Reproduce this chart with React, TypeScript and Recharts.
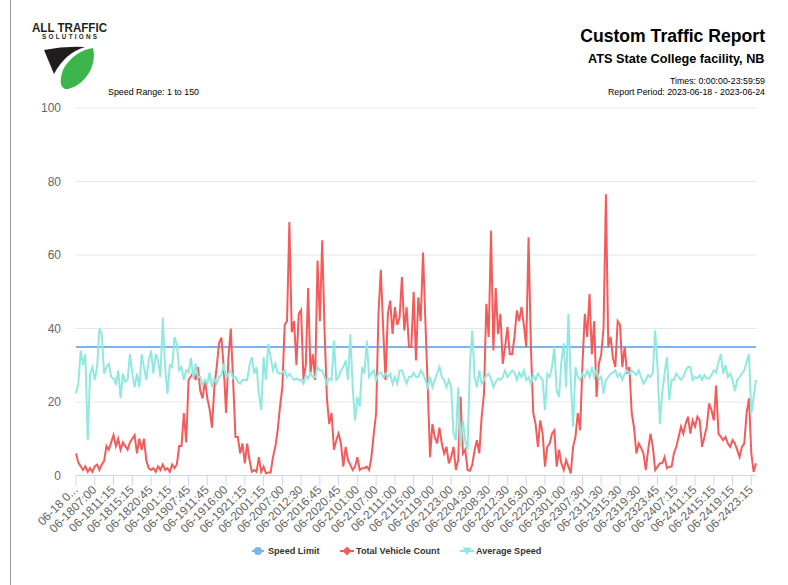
import React from 'react';
import { LineChart, Line, XAxis, YAxis, CartesianGrid } from 'recharts';

const tickLabels = [
  '06-18 0...', '06-1807:00', '06-1811:15', '06-1815:15', '06-1820:45', '06-1901:15',
  '06-1907:45', '06-1911:45', '06-1916:00', '06-1921:15', '06-2001:15', '06-2007:00',
  '06-2012:30', '06-2016:45', '06-2020:45', '06-2101:00', '06-2107:00', '06-2111:00',
  '06-2115:00', '06-2119:00', '06-2123:00', '06-2204:30', '06-2208:30', '06-2212:30',
  '06-2216:30', '06-2220:30', '06-2301:00', '06-2307:30', '06-2311:30', '06-2315:30',
  '06-2319:30', '06-2323:45', '06-2407:15', '06-2411:15', '06-2415:15', '06-2419:15',
  '06-2423:15',
];

const vehicleCount = [
  6, 3.5, 2.5, 1.5, 2.5, 1, 2, 1, 2.5, 3, 1.5, 3, 4, 8, 7, 9, 11, 8, 10, 7,
  9, 8, 7, 9, 10, 11, 6, 10, 7, 10, 4, 2, 1.5, 2, 1, 2.5, 1.5, 3, 1.5, 2,
  1, 3, 2, 3, 8, 8, 17, 9, 26, 27, 28, 26, 29.5, 23, 21, 26, 21, 18, 13, 24,
  29.5, 36, 37.5, 29.5, 17, 32, 40, 26, 10.5, 10.5, 6, 8.7, 3.3, 8.7, 4.2, 1, 1.5, 1, 5, 1,
  2.4, 0.6, 0.8, 0.8, 5, 7.8, 12.3, 18.7, 24, 41, 42, 69, 39, 42, 30, 44, 45, 26, 30, 51,
  28, 33, 26, 58.5, 42, 64, 39.5, 21, 14, 17, 7, 9.6, 11.4, 8.7, 2.4, 7.8, 4.2, 2.9, 1.5, 2.4,
  5, 1.5, 2, 2, 2.4, 1.5, 5, 11.4, 17, 44, 56, 40, 26, 44, 47.6, 38.5, 45.8, 41, 43, 54,
  39.5, 45.8, 35, 35, 50, 31.3, 48.5, 42, 60.7, 42, 24, 5, 14, 10.5, 8.7, 13, 8.7, 6, 7.8, 3.3,
  5, 7.8, 1.5, 4.2, 21.4, 6, 7, 1.5, 1.3, 2.9, 7, 9.6, 6, 16, 22.3, 46.7, 37.7, 66.6, 34, 51,
  38.5, 44, 30.4, 35, 40.4, 33, 33, 37.7, 44.9, 42, 45.8, 41, 35, 64.8, 35, 17, 14, 7.8, 15, 11.4,
  2.4, 7.8, 8.7, 11.4, 12.3, 2.4, 7, 3.3, 1.5, 4.2, 2.4, 0.6, 7.8, 10.5, 17, 12.3, 30.4, 44, 37.7, 49.4,
  33, 42, 21.4, 30.4, 33, 40.4, 76.5, 35, 37.7, 32, 29.5, 42, 41, 29.5, 35, 27.7, 29.5, 17, 13, 6,
  8.7, 7.5, 6, 1.5, 7, 11.4, 7.8, 1.5, 2.4, 3.3, 3.3, 5, 2, 2.4, 2.4, 6, 7.8, 10.5, 13.3, 11.4,
  14.1, 16, 11.4, 15, 13.3, 16, 15, 7.8, 10.5, 13.3, 19.6, 17.8, 15, 24.5, 11.4, 10.5, 9.6, 10.5, 8.7, 7.8,
  9.6, 8.7, 6.9, 5, 7.8, 8.7, 17, 21, 6, 1, 3.3,
];

const averageSpeed = [
  22.3, 25, 34, 30, 33, 9.6, 27.7, 29.5, 26, 29.5, 40, 38.5, 27.7, 29.5, 30.4, 26.8, 26.4, 25, 28.6, 21,
  27.7, 25.5, 26, 33, 27.7, 24, 27.7, 24, 33, 29.5, 26, 31.3, 34, 27.7, 33, 31.3, 26.8, 43, 29.5, 22.3,
  30, 29.5, 37.7, 35.8, 28.6, 29.5, 26, 28.6, 28, 32, 26.4, 30.4, 26.8, 26.8, 24.5, 26, 25, 28, 24, 26.4,
  25, 26.8, 27.3, 30.4, 26.4, 27.7, 28.6, 26.4, 26.8, 25.5, 25, 26, 26, 26, 30, 32.2, 27.7, 29.5, 22.3, 17.8,
  32.2, 26, 35.8, 32.2, 28.6, 30.4, 28, 27.7, 28, 28.6, 26.8, 27.7, 26.8, 26, 26.4, 26, 26, 25, 27.3, 26.4,
  27.7, 26.8, 26.8, 29.5, 28.6, 28.6, 26.8, 25, 26.4, 26, 36.7, 26, 26.8, 28.6, 29.5, 31.3, 26, 38.5, 24, 15,
  21.4, 18.7, 29.5, 27.7, 36.7, 26.8, 27.7, 28.6, 26, 27.7, 28, 26.8, 27.7, 26.8, 27.7, 25, 26.8, 25, 28.6, 28.6,
  26.8, 25, 26.8, 26.8, 28, 26.8, 26.8, 28.6, 27.7, 26, 24, 26.8, 24, 26, 27.7, 29.5, 26.8, 26, 24, 26,
  24, 11.4, 9.6, 24, 7.8, 15, 9.6, 6.9, 30.4, 39.5, 26.8, 24, 28.6, 25, 26, 27.3, 27.7, 26.4, 24, 25.5,
  26.4, 26, 26.8, 28.6, 26.8, 27.7, 28.6, 28, 26, 28, 26.8, 28.6, 26, 26.8, 25, 27.3, 26, 27.7, 26.8, 26,
  17.8, 27.7, 26.8, 29.5, 35, 23, 21.4, 31, 36, 24, 44, 26, 13.3, 29.5, 26.8, 26, 27.7, 26.8, 28.6, 26.8,
  29.5, 26.8, 28.6, 26, 26.8, 22.3, 26, 26.8, 27.7, 28, 28.6, 26.8, 27.7, 26, 27.7, 28.6, 27.7, 28.6, 28, 27.3,
  28.6, 26.8, 25, 26, 27.3, 26.8, 28, 39.5, 29.5, 14, 22.3, 27.7, 32.2, 20.5, 26, 26, 27.7, 26.8, 26, 26.8,
  28.6, 29.5, 29.5, 26, 26.8, 26.4, 27.3, 26, 27.3, 26.4, 26.4, 27.3, 28.6, 28, 30.9, 33, 27.7, 30, 26.8, 27.7,
  26, 23, 26, 26.8, 27.7, 28.6, 30.9, 33, 16.9, 21.4, 26,
];

const SPEED_LIMIT = 35;
const yTicks = [0, 20, 40, 60, 80, 100];

const seriesNames = ['Speed Limit', 'Total Vehicle Count', 'Average Speed'];
const seriesColors = ['#7cb5ec', '#f45b5b', '#91e8e1'];

const data = vehicleCount.map((v, i) => ({
  idx: i,
  speedLimit: SPEED_LIMIT,
  vehicleCount: v,
  averageSpeed: averageSpeed[i],
}));

const FONT = '"Liberation Sans", Arial, Helvetica, sans-serif';

function XTick(props: any) {
  const { x, y, payload } = props;
  const label = tickLabels[Math.round(payload.value / 8)] ?? '';
  return (
    <g transform={`translate(${x + 2.5},${y})`}>
      <text
        x={0}
        y={0}
        textAnchor="end"
        transform="rotate(-45)"
        fill="#666666"
        fontSize={12}
        fontFamily={FONT}
      >
        {label}
      </text>
    </g>
  );
}

function Header() {
  return (
    <svg
      width={788}
      height={110}
      style={{ position: 'absolute', left: 0, top: 0 }}
    >
      <text x={32} y={31.7} fontFamily={FONT} fontWeight={900} fontSize={12.6} fill="#231f20" textLength={75} lengthAdjust="spacingAndGlyphs">
        ALL TRAFFIC
      </text>
      <text x={42} y={39.3} fontFamily={FONT} fontWeight={700} fontSize={6.3} fill="#231f20" textLength={55} lengthAdjust="spacing">
        SOLUTIONS
      </text>
      <path d="M44,50 Q64,46 85,47 Q65,53 54,74 Q49,62 44,50 Z" fill="#1f1d1e" />
      <path d="M93,48 C97,62 88,84 68,89 C58,90 60,76 64,68 C70,58 80,50 93,48 Z" fill="#3cb54a" />
      <text x={108} y={95} fontFamily={FONT} fontSize={8.85} fill="#000">
        Speed Range: 1 to 150
      </text>
      <text x={765} y={41.7} textAnchor="end" fontFamily={FONT} fontWeight={700} fontSize={17.6} fill="#000">
        Custom Traffic Report
      </text>
      <text x={764.5} y={63} textAnchor="end" fontFamily={FONT} fontWeight={700} fontSize={12.7} fill="#000">
        ATS State College facility, NB
      </text>
      <text x={765} y={84.3} textAnchor="end" fontFamily={FONT} fontSize={8.8} fill="#000">
        Times: 0:00:00-23:59:59
      </text>
      <text x={765} y={95.3} textAnchor="end" fontFamily={FONT} fontSize={8.8} fill="#000">
        Report Period: 2023-06-18 - 2023-06-24
      </text>
    </svg>
  );
}

function LegendBox() {
  const cy = 11;
  return (
    <svg width={788} height={22} style={{ position: 'absolute', left: 0, top: 540 }}>
      <line x1={252} x2={264} y1={cy} y2={cy} stroke={seriesColors[0]} strokeWidth={2} />
      <circle cx={258} cy={cy} r={4} fill={seriesColors[0]} />
      <text x={268} y={cy + 3.3} fontFamily={FONT} fontWeight={700} fontSize={9.1} fill="#333333">
        {seriesNames[0]}
      </text>
      <line x1={340} x2={354} y1={cy} y2={cy} stroke={seriesColors[1]} strokeWidth={2} />
      <path d={`M347,${cy - 4.5} L351.5,${cy} L347,${cy + 4.5} L342.5,${cy} Z`} fill={seriesColors[1]} />
      <text x={356} y={cy + 3.3} fontFamily={FONT} fontWeight={700} fontSize={9.1} fill="#333333">
        {seriesNames[1]}
      </text>
      <line x1={460} x2={474} y1={cy} y2={cy} stroke={seriesColors[2]} strokeWidth={2} />
      <path d={`M462.5,${cy - 3.5} L471.5,${cy - 3.5} L467,${cy + 4} Z`} fill={seriesColors[2]} />
      <text x={476} y={cy + 3.3} fontFamily={FONT} fontWeight={700} fontSize={9.1} fill="#333333">
        {seriesNames[2]}
      </text>
    </svg>
  );
}

export default function App() {
  return (
    <div style={{ position: 'absolute', left: 0, top: 0, width: 788, height: 585, background: '#fff', overflow: 'hidden' }}>
      <div style={{ position: 'absolute', left: 10, top: 0, width: 1, height: 585, background: '#9a9a9a' }} />
      <Header />
      <div style={{ position: 'absolute', left: 0, top: 0 }}>
        <LineChart
          width={788}
          height={585}
          data={data}
          margin={{ top: 108, right: 32, left: 0, bottom: 29.5 }}
        >
          <CartesianGrid vertical={false} stroke="#e6e6e6" strokeWidth={1} />
          <XAxis
            dataKey="idx"
            type="category"
            interval={7}
            height={80}
            axisLine={{ stroke: '#ccd6eb', strokeWidth: 1 }}
            tickLine={{ stroke: '#ccd6eb', strokeWidth: 1 }}
            tickSize={10}
            tickMargin={5}
            tick={<XTick />}
          />
          <YAxis
            domain={[0, 100]}
            ticks={yTicks}
            width={76}
            axisLine={false}
            tickLine={false}
            tickSize={0}
            tickMargin={15}
            tick={{ fill: '#666666', fontSize: 12, fontFamily: FONT }}
          />
          <Line
            type="linear"
            dataKey="speedLimit"
            name={seriesNames[0]}
            stroke={seriesColors[0]}
            strokeWidth={2}
            dot={false}
            activeDot={false}
            isAnimationActive={false}
          />
          <Line
            type="linear"
            dataKey="vehicleCount"
            name={seriesNames[1]}
            stroke={seriesColors[1]}
            strokeWidth={2}
            dot={false}
            activeDot={false}
            isAnimationActive={false}
          />
          <Line
            type="linear"
            dataKey="averageSpeed"
            name={seriesNames[2]}
            stroke={seriesColors[2]}
            strokeWidth={2}
            dot={false}
            activeDot={false}
            isAnimationActive={false}
          />
        </LineChart>
      </div>
      <LegendBox />
    </div>
  );
}
